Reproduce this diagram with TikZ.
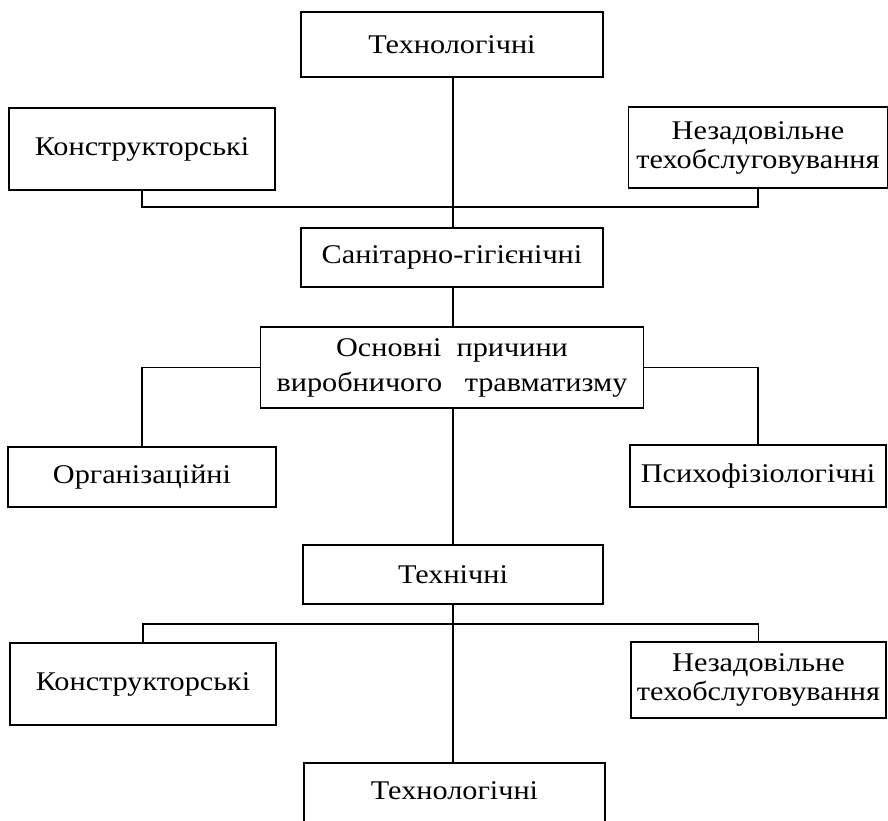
\documentclass[tikz,border=0pt]{standalone}
\usepackage{fontspec}
\setmainfont[FakeStretch=1.12]{Liberation Serif}
\begin{document}
\begin{tikzpicture}[x=1pt,y=-1pt,
  box/.style={draw, line width=1.3pt, inner sep=0pt, align=center,
    font=\fontsize{27}{29}\selectfont},
  conn/.style={line width=1.3pt}]
\clip (0,0) rectangle (888,820);
\useasboundingbox (0,0) rectangle (888,820);
% centre column
\node[box, minimum width=302pt, minimum height=65pt] (t1) at (452,44.5) {Технологічні};
\node[box, minimum width=302pt, minimum height=59pt] (s) at (452,257.5) {Санітарно-гігієнічні};
\node[box, minimum width=383pt, minimum height=81pt, font=\fontsize{27}{35}\selectfont] (o) at (452,367.5) {Основні\ \ причини\\виробничого\ \ \ травматизму};
\node[box, minimum width=300pt, minimum height=59pt] (t2) at (453,574.5) {Технічні};
\node[box, minimum width=301pt, minimum height=100pt] (t3) at (454.5,813) {};
\node[font=\fontsize{27}{29}\selectfont] (t3l) at (454.5,791) {Технологічні};
% top branch
\node[box, minimum width=266pt, minimum height=82pt] (k1) at (142,149) {Конструкторські};
\node[box, minimum width=259pt, minimum height=81pt] (n1) at (758,147.5) {Незадовільне\\техобслуговування};
% middle branch
\node[box, minimum width=268pt, minimum height=60pt] (org) at (142,477) {Організаційні};
\node[box, minimum width=256pt, minimum height=62pt] (p) at (758,476) {Психофізіологічні};
% bottom branch
\node[box, minimum width=266pt, minimum height=82pt] (k2) at (143,684) {Конструкторські};
\node[box, minimum width=255pt, minimum height=76pt] (n2) at (758.5,680) {Незадовільне\\техобслуговування};
\coordinate (j1) at (453,207);
\coordinate (j2) at (453,624);
% connectors
\draw[conn] (t1.south -| j1) -- (s.north -| j1);
\draw[conn] (s.south -| j1) -- (o.north -| j1);
\draw[conn] (o.south -| j1) -- (t2.north -| j1);
\draw[conn] (t2.south -| j1) -- (t3.north -| j1);
\draw[conn] (k1.south) |- (j1) -| (n1.south);
\draw[conn] (o.west) -| (org.north);
\draw[conn] (o.east) -| (p.north);
\draw[conn] (k2.north) |- (j2) -| (n2.north);
\end{tikzpicture}
\end{document}
